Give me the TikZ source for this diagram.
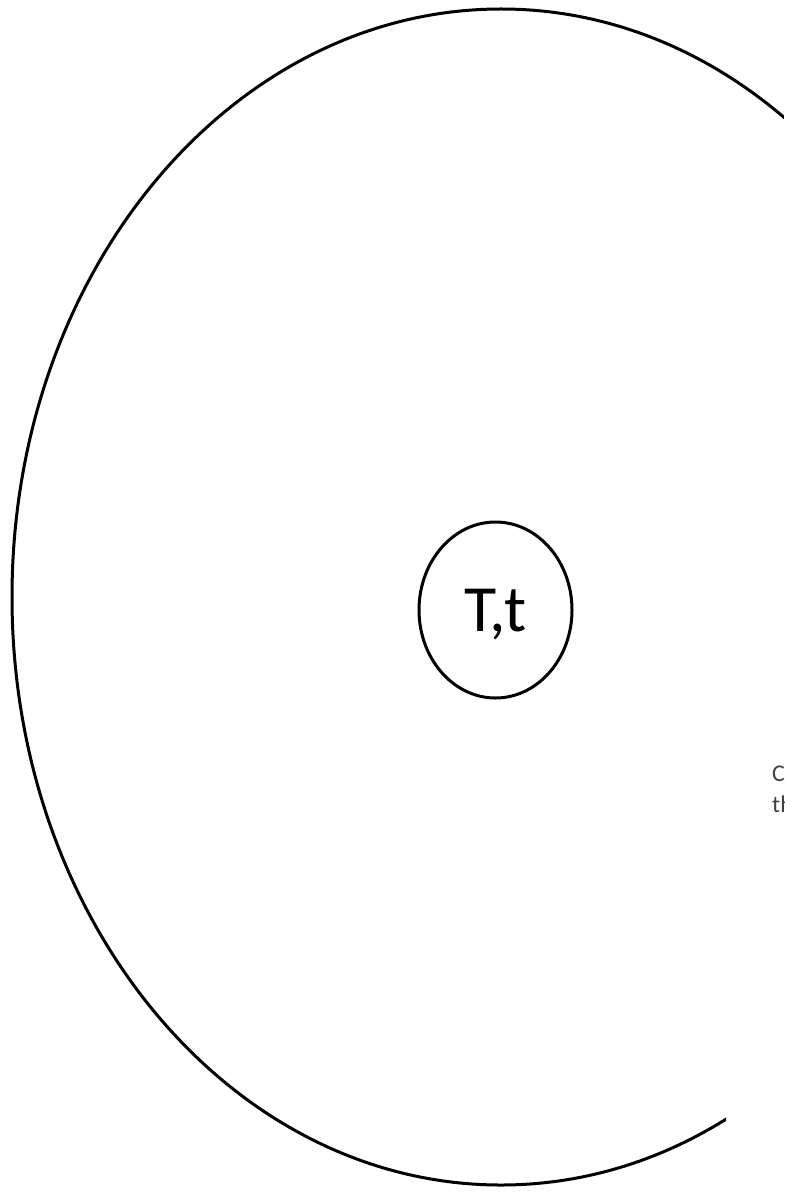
\documentclass[tikz,border=0pt]{standalone}
\usepackage{fontspec}
\setmainfont{Carlito}
\usetikzlibrary{shapes.geometric}
\definecolor{ink}{HTML}{000000}
\definecolor{muted}{HTML}{404040}
\tikzset{
  ring/.style={ellipse,draw=ink,line width=#1,inner sep=0pt},
  ring/.default=3pt,
  note/.style={align=left,anchor=base west,font=\fontsize{24}{31}\selectfont,text=muted,inner sep=0pt},
}
\begin{document}
\begin{tikzpicture}[x=1pt,y=-1pt]
  \useasboundingbox (0,0) rectangle (784,1193);
  \begin{scope}
    % the text box hides the lower right of the ring
    \clip (0,0) -- (784,0) -- (784,950) -- (726,950) -- (726,1193) -- (0,1193) -- cycle;
    \node[ring,minimum width=978pt,minimum height=1176pt] (world) at (501,597) {};
  \end{scope}
  \node[ring,minimum width=153pt,minimum height=176pt,text depth=0pt,
        font=\fontsize{66}{70}\selectfont] (cell) at (495.5,610) {T,t};
  \begin{scope}
    \clip (0,0) rectangle (784,1193);
    \node[note] (caption) at (772,812) {C\\th};
  \end{scope}
\end{tikzpicture}
\end{document}
